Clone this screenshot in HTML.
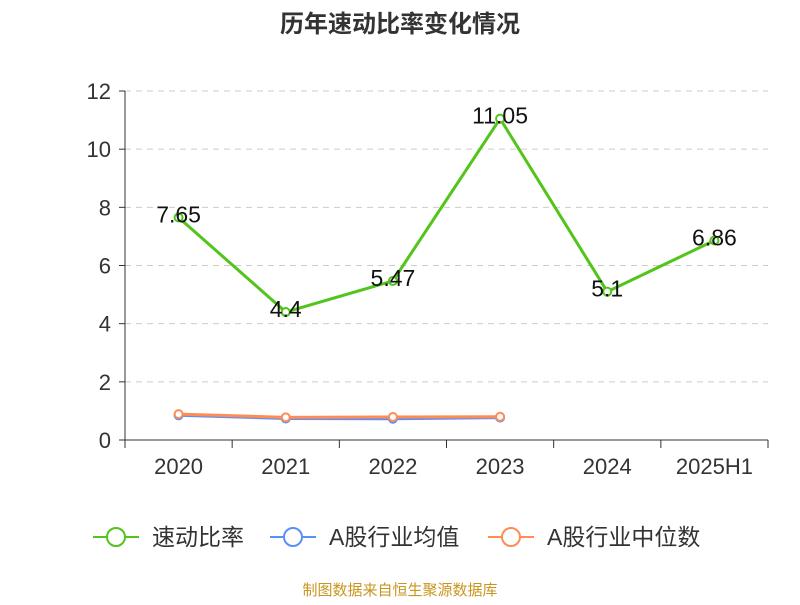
<!DOCTYPE html>
<html><head><meta charset="utf-8"><style>
body{margin:0;background:#fff;font-family:"Liberation Sans","Noto Sans CJK SC",sans-serif}
</style></head><body>
<svg width="800" height="600" id="c" style="font-family:'Liberation Sans','Noto Sans CJK SC',sans-serif">
<text x="400" y="32" text-anchor="middle" font-size="24" font-weight="bold" fill="#333">历年速动比率变化情况</text>
<g id="grid"></g><g id="axes"></g><g id="series"></g>
<g>
<g><line x1="93" y1="537" x2="139" y2="537" stroke="#52c41a" stroke-width="2"/><circle cx="116" cy="537" r="9" fill="#fff" stroke="#52c41a" stroke-width="2"/><text x="152" y="545" font-size="23" fill="#333">速动比率</text></g>
<g><line x1="270" y1="537" x2="316" y2="537" stroke="#5b8ff9" stroke-width="2"/><circle cx="293" cy="537" r="9" fill="#fff" stroke="#5b8ff9" stroke-width="2"/><text x="329" y="545" font-size="23" fill="#333">A股行业均值</text></g>
<g><line x1="488" y1="537" x2="534" y2="537" stroke="#ff8c55" stroke-width="2"/><circle cx="511" cy="537" r="9" fill="#fff" stroke="#ff8c55" stroke-width="2"/><text x="547" y="545" font-size="23" fill="#333">A股行业中位数</text></g>
</g>
<text x="400" y="595" text-anchor="middle" font-size="15" fill="#c8961e">制图数据来自恒生聚源数据库</text>
</svg>
<script>
const categories=["2020","2021","2022","2023","2024","2025H1"];
const quickRatio=[7.65,4.4,5.47,11.05,5.1,6.86];
const industryMean=[0.85,0.74,0.73,0.77];
const industryMedian=[0.89,0.78,0.79,0.8];
const yTicks=[0,2,4,6,8,10,12];
const NS="http://www.w3.org/2000/svg";
const L=125,R=768,T=91,B=440,bw=(R-L)/categories.length;
const x=i=>L+bw*(i+0.5), y=v=>B-(v/12)*(B-T);
function mk(tag,a,p){const e=document.createElementNS(NS,tag);for(const k in a)e.setAttribute(k,a[k]);p.appendChild(e);return e;}
const grid=document.getElementById('grid'),axes=document.getElementById('axes'),ser=document.getElementById('series');
yTicks.forEach(t=>{
 if(t>0){const g=mk('line',{x1:L,x2:R,y1:y(t),y2:y(t),stroke:'#ccc','stroke-dasharray':'6,5'},grid);
 }
 mk('line',{x1:L-6,x2:L,y1:y(t),y2:y(t),stroke:'#333'},axes);
 const tx=mk('text',{x:L-14,y:y(t)+8,'text-anchor':'end','font-size':22,fill:'#333'},axes);tx.textContent=t;
 
});
mk('line',{x1:L,x2:L,y1:T,y2:B,stroke:'#333'},axes);
mk('line',{x1:L,x2:R,y1:B,y2:B,stroke:'#333'},axes);
for(let i=0;i<=categories.length;i++)mk('line',{x1:L+bw*i,x2:L+bw*i,y1:B,y2:B+8,stroke:'#333'},axes);
categories.forEach((c,i)=>{const tx=mk('text',{x:x(i),y:B+34,'text-anchor':'middle','font-size':22,fill:'#333'},axes);tx.textContent=c;
 });
function line(vals,color,name,labels){
 const g=mk('g',{},ser);
 mk('polyline',{points:vals.map((v,i)=>x(i)+','+y(v)).join(' '),fill:'none',stroke:color,'stroke-width':3},g);
 vals.forEach((v,i)=>{const c=mk('circle',{cx:x(i),cy:y(v),r:4,fill:'#fff',stroke:color,'stroke-width':2},g);
  
  if(labels){const t=mk('text',{x:x(i),y:y(v)+5,'text-anchor':'middle','font-size':23,fill:'#111'},g);t.textContent=v;
   }});
}
line(industryMean,'#5b8ff9','industry-mean-line',false);
line(industryMedian,'#ff8c55','industry-median-line',false);
line(quickRatio,'#52c41a','quick-ratio-line',true);
</script>
</body></html>
